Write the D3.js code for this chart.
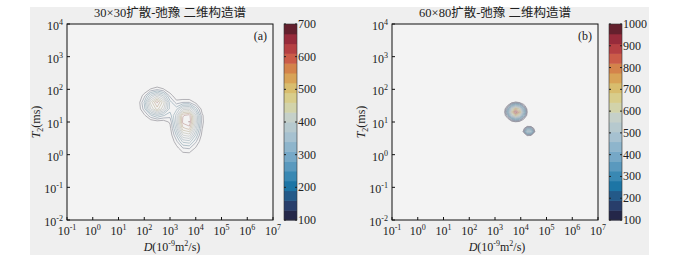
<!DOCTYPE html>
<html>
<head>
<meta charset="utf-8">
<script src="https://cdn.jsdelivr.net/npm/d3@7"></script>
<style>
  body { margin: 0; background: #fff; }
  svg text { font-family: "Liberation Serif", "Noto Sans CJK SC", serif; fill: #222; }
</style>
</head>
<body>
<div id="chart"></div>
<script>
// grid columns (log10 D) and rows (log10 T2)
var logDLeft = [1.25, 1.5, 1.75, 2.0, 2.25, 2.5, 2.75, 3.0, 3.25, 3.5, 3.75, 4.0, 4.25, 4.5, 4.75];
var logT2Left = [2.6, 2.4, 2.2, 2.0, 1.8, 1.6, 1.4, 1.2, 1.0, 0.8, 0.6, 0.4, 0.2, 0.0, -0.2, -0.4];
var ampLeft = [
  [0, 0, 0, 0, 0, 0, 0, 0, 0, 0, 0, 0, 0, 0, 0],
  [0, 0, 0, 1, 2, 3, 2, 1, 0, 0, 0, 0, 0, 0, 0],
  [0, 0, 2, 9, 21, 27, 21, 9, 2, 0, 0, 0, 0, 0, 0],
  [0, 2, 12, 47, 106, 139, 106, 48, 15, 7, 6, 3, 1, 0, 0],
  [0, 5, 34, 132, 298, 391, 299, 137, 52, 39, 37, 21, 7, 1, 0],
  [1, 8, 54, 206, 465, 609, 468, 227, 126, 150, 151, 87, 27, 5, 0],
  [1, 7, 46, 178, 401, 526, 409, 230, 234, 374, 391, 226, 71, 12, 1],
  [0, 3, 22, 85, 191, 252, 204, 169, 324, 594, 628, 363, 113, 19, 2],
  [0, 1, 6, 23, 51, 67, 64, 110, 321, 617, 654, 378, 118, 20, 2],
  [0, 0, 1, 3, 7, 11, 19, 79, 274, 534, 568, 328, 103, 17, 2],
  [0, 0, 0, 0, 1, 2, 9, 57, 206, 402, 427, 247, 77, 13, 1],
  [0, 0, 0, 0, 0, 0, 6, 37, 134, 262, 279, 161, 50, 9, 1],
  [0, 0, 0, 0, 0, 0, 3, 21, 76, 148, 157, 91, 28, 5, 0],
  [0, 0, 0, 0, 0, 0, 2, 10, 37, 73, 77, 45, 14, 2, 0],
  [0, 0, 0, 0, 0, 0, 1, 4, 16, 31, 33, 19, 6, 1, 0],
  [0, 0, 0, 0, 0, 0, 0, 2, 6, 11, 12, 7, 2, 0, 0]
];

var logDRight = [3.2, 3.35, 3.5, 3.65, 3.8, 3.95, 4.1, 4.25, 4.4, 4.55, 4.7, 4.85];
var logT2Right = [1.8, 1.7, 1.6, 1.5, 1.4, 1.3, 1.2, 1.1, 1.0, 0.9, 0.8, 0.7, 0.6, 0.5, 0.4, 0.3];
var ampRight = [
  [0, 0, 1, 2, 2, 2, 1, 0, 0, 0, 0, 0],
  [0, 1, 6, 15, 21, 17, 8, 2, 0, 0, 0, 0],
  [1, 8, 33, 81, 114, 94, 44, 12, 2, 0, 0, 0],
  [4, 26, 111, 270, 382, 313, 148, 41, 6, 1, 0, 0],
  [7, 53, 224, 546, 771, 632, 299, 82, 13, 1, 0, 0],
  [9, 65, 273, 667, 943, 772, 366, 100, 16, 2, 0, 0],
  [7, 48, 202, 494, 698, 571, 271, 74, 12, 1, 0, 0],
  [3, 21, 90, 221, 312, 255, 121, 33, 5, 0, 0, 0],
  [1, 6, 25, 60, 84, 69, 33, 9, 1, 0, 0, 0],
  [0, 1, 4, 10, 14, 12, 12, 26, 23, 6, 0, 0],
  [0, 0, 0, 1, 1, 6, 65, 244, 233, 56, 3, 0],
  [0, 0, 0, 0, 0, 7, 110, 415, 397, 96, 6, 0],
  [0, 0, 0, 0, 0, 2, 32, 120, 114, 28, 2, 0],
  [0, 0, 0, 0, 0, 0, 2, 6, 6, 1, 0, 0],
  [0, 0, 0, 0, 0, 0, 0, 0, 0, 0, 0, 0],
  [0, 0, 0, 0, 0, 0, 0, 0, 0, 0, 0, 0]
];

var xTickExp = [-1, 0, 1, 2, 3, 4, 5, 6, 7];
var yTickExp = [-2, -1, 0, 1, 2, 3, 4];
var cbarTicksLeft = [100, 200, 300, 400, 500, 600, 700];
var cbarTicksRight = [100, 200, 300, 400, 500, 600, 700, 800, 900, 1000];
var levelsLeft = d3.range(100, 700, 50);
var levelsRight = d3.range(100, 1000, 30);

// colormap stops (bottom -> top)
var cmapStops = ["#221b38", "#28406e", "#1c78a8", "#6aa2c4", "#a4c0d0", "#c4d0cc",
                 "#d8d49a", "#d8c070", "#d8964c", "#c85048", "#9c2c3c", "#4a1a26"];
var cmapPos = [0, 0.08, 0.18, 0.30, 0.42, 0.52, 0.60, 0.67, 0.75, 0.84, 0.92, 1];
var cmap = d3.scaleLinear().domain(cmapPos).range(cmapStops).interpolate(d3.interpolateRgb);

(function () {
    var svg = d3.select("#chart").append("svg")
        .attr("width", 688)
        .attr("height", 256);

    // grey figure background
    svg.append("rect").attr("x", 30).attr("y", 7).attr("width", 619).attr("height", 248).attr("fill", "#efefef");

    var panels = [
      { left: 67, title: "30×30扩散-弛豫 二维构造谱", tag: "(a)", logD: logDLeft, logT2: logT2Left, amp: ampLeft,
        levels: levelsLeft, vmin: 100, vmax: 700, cbarX: 284, cbarTicks: cbarTicksLeft, bands: 20, fade: 0.72 },
      { left: 392, title: "60×80扩散-弛豫 二维构造谱", tag: "(b)", logD: logDRight, logT2: logT2Right, amp: ampRight,
        levels: levelsRight, vmin: 100, vmax: 1000, cbarX: 609, cbarTicks: cbarTicksRight, bands: 20, fade: 0.62 }
    ];

    var plotTop = 24, w = 206, h = 196;

    panels.forEach(function (p) {
        var g = svg.append("g").attr("transform", "translate(" + p.left + "," + plotTop + ")");
        var x = d3.scaleLog().domain([1e-1, 1e7]).range([0, w]);
        var y = d3.scaleLog().domain([1e-2, 1e4]).range([h, 0]);

        g.append("rect").attr("width", w).attr("height", h).attr("fill", "#f3f3f3");

        // contours
        var nx = p.logD.length, ny = p.logT2.length;
        var stepD = p.logD[1] - p.logD[0], stepT = p.logT2[0] - p.logT2[1];
        var values = [];
        p.amp.forEach(function (row) { row.forEach(function (v) { values.push(v); }); });
        var contours = d3.contours().size([nx, ny]).thresholds(p.levels)(values);
        var proj = d3.geoTransform({
            point: function (cx, cy) {
                var ld = p.logD[0] + (cx - 0.5) * stepD;
                var lt = p.logT2[0] - (cy - 0.5) * stepT;
                this.stream.point(x(Math.pow(10, ld)), y(Math.pow(10, lt)));
            }
        });
        var path = d3.geoPath(proj);
        var tcol = d3.scaleLinear().domain([p.vmin, p.vmax]).range([0, 1]);

        g.selectAll(".iso")
            .data(contours)
            .enter().append("path")
            .attr("d", path)
            .attr("fill", "none")
            .attr("stroke", function (d) { return d3.interpolateRgb(cmap(tcol(d.value)), "#c2c2c2")(p.fade); })
            .attr("stroke-width", 0.7);

        g.append("rect").attr("width", w).attr("height", h)
            .attr("fill", "none").attr("stroke", "#111").attr("stroke-width", 1);

        // ticks and labels
        xTickExp.forEach(function (e) {
            var px = x(Math.pow(10, e));
            g.append("line").attr("x1", px).attr("x2", px).attr("y1", h).attr("y2", h - 3).attr("stroke", "#111");
            var t = g.append("text").attr("x", px).attr("y", h + 15).attr("text-anchor", "middle").style("font-size", "12px");
            t.append("tspan").text("10");
            t.append("tspan").attr("dy", -5).style("font-size", "8px").text(e);
        });
        yTickExp.forEach(function (e) {
            var py = y(Math.pow(10, e));
            g.append("line").attr("x1", 0).attr("x2", 3).attr("y1", py).attr("y2", py).attr("stroke", "#111");
            var t = g.append("text").attr("x", -4).attr("y", py + 6).attr("text-anchor", "end").style("font-size", "12px");
            t.append("tspan").text("10");
            t.append("tspan").attr("dy", -5).style("font-size", "8px").text(e);
        });

        g.append("text").attr("x", w / 2).attr("y", -7).attr("text-anchor", "middle")
            .style("font-size", "12.5px").text(p.title);
        g.append("text").attr("x", w - 6).attr("y", 16).attr("text-anchor", "end")
            .style("font-size", "12px").text(p.tag);

        var xl = g.append("text").attr("x", w / 2 + 2).attr("y", h + 31).attr("text-anchor", "middle").style("font-size", "12px");
        xl.append("tspan").style("font-style", "italic").text("D");
        xl.append("tspan").text("(10");
        xl.append("tspan").attr("dy", -5).style("font-size", "8px").text("-9");
        xl.append("tspan").attr("dy", 5).text("m");
        xl.append("tspan").attr("dy", -5).style("font-size", "8px").text("2");
        xl.append("tspan").attr("dy", 5).text("/s)");

        var yl = g.append("text").attr("transform", "translate(-27," + (h / 2) + ") rotate(-90)")
            .attr("text-anchor", "middle").style("font-size", "12px");
        yl.append("tspan").style("font-style", "italic").text("T");
        yl.append("tspan").attr("dy", 3).style("font-size", "8px").text("2");
        yl.append("tspan").attr("dy", -3).text("(ms)");

        // colorbar
        var cb = svg.append("g").attr("transform", "translate(" + p.cbarX + "," + plotTop + ")");
        var cw = 13;
        var cy = d3.scaleLinear().domain([p.vmin, p.vmax]).range([h, 0]);
        var bandW = (p.vmax - p.vmin) / p.bands;
        var bands = d3.range(p.bands).map(function (i) { return p.vmin + i * bandW; });
        cb.selectAll(".band").data(bands).enter().append("rect")
            .attr("x", 0).attr("width", cw)
            .attr("y", function (d) { return cy(d + bandW); })
            .attr("height", function (d) { return cy(d) - cy(d + bandW) + 0.5; })
            .attr("fill", function (d) { return cmap(tcol(d + bandW / 2)); });
        cb.append("rect").attr("width", cw).attr("height", h).attr("fill", "none").attr("stroke", "#333").attr("stroke-width", 0.6);
        p.cbarTicks.forEach(function (v) {
            cb.append("line").attr("x1", 0).attr("x2", 2).attr("y1", cy(v)).attr("y2", cy(v)).attr("stroke", "#222");
            cb.append("line").attr("x1", cw - 2).attr("x2", cw).attr("y1", cy(v)).attr("y2", cy(v)).attr("stroke", "#222");
            cb.append("text").attr("x", cw + 1).attr("y", cy(v) + 4).style("font-size", "12px").text(v);
        });
    });
})();
</script>
</body>
</html>
